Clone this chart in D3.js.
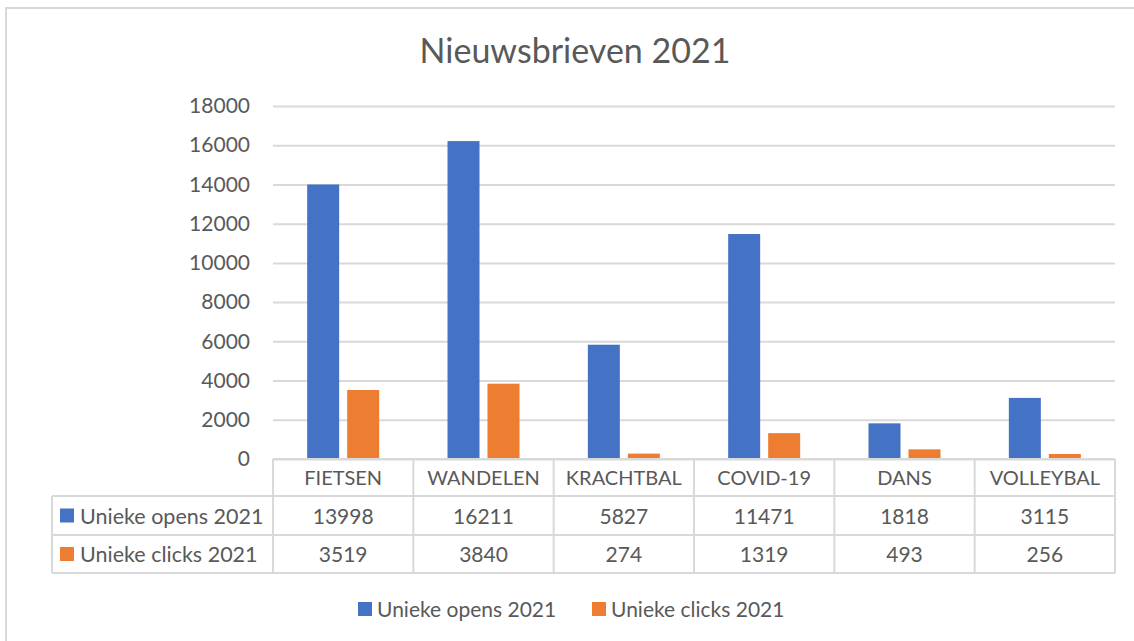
<!DOCTYPE html>
<html>
<head>
<meta charset="utf-8">
<script src="https://cdn.jsdelivr.net/npm/d3@7"></script>
<style>
  body { margin: 0; background: #fff; }
  svg text { font-family: Lato, "Open Sans", sans-serif; fill: #595959; }
</style>
</head>
<body>
<svg id="chart" width="1134" height="641"></svg>
<script>
// data
var categories = ["FIETSEN", "WANDELEN", "KRACHTBAL", "COVID-19", "DANS", "VOLLEYBAL"];
var seriesNames = ["Unieke opens 2021", "Unieke clicks 2021"];
var opens = [13998, 16211, 5827, 11471, 1818, 3115];
var clicks = [3519, 3840, 274, 1319, 493, 256];
var yTicks = [0, 2000, 4000, 6000, 8000, 10000, 12000, 14000, 16000, 18000];
var colors = ["#4472C4", "#ED7D31"];

var seriesValues = [opens, clicks];
var rows = categories.map(function(c, i) {
  return { cat: c, vals: seriesValues.map(function(s) { return s[i]; }) };
});

var svg = d3.select("#chart");
var grid = "#d9d9d9";

// outer chart frame
svg.append("rect")
  .attr("x", 6).attr("y", 8)
  .attr("width", 1200).attr("height", 700)
  .attr("fill", "none").attr("stroke", grid).attr("stroke-width", 2);

svg.append("text")
  .attr("x", 575).attr("y", 63)
  .attr("text-anchor", "middle")
  .style("font-size", "34px")
  .text("Nieuwsbrieven 2021");

var plotL = 273, plotR = 1115, plotT = 106, plotB = 459;

var x0 = d3.scaleBand().domain(categories).range([plotL, plotR])
  .paddingInner(0.487).paddingOuter(0.2435);
var x1 = d3.scaleBand().domain(d3.range(seriesNames.length))
  .range([0, x0.bandwidth()]).paddingInner(0.2);
var y = d3.scaleLinear().domain([0, 18000]).range([plotB, plotT]);

// gridlines + tick labels
var yAxis = svg.append("g")
  .attr("transform", "translate(" + plotL + ",0)")
  .call(d3.axisLeft(y).tickValues(yTicks).tickFormat(d3.format("d"))
    .tickSize(-(plotR - plotL)).tickPadding(23));
yAxis.select(".domain").remove();
yAxis.selectAll(".tick line").attr("stroke", grid).attr("stroke-width", 2);
yAxis.selectAll(".tick text")
  .style("font-size", "21px").attr("fill", "#595959");

// bars
var groups = svg.selectAll(".cat")
  .data(rows).enter().append("g")
  .attr("class", "cat")
  .attr("transform", function(d) { return "translate(" + x0(d.cat) + ",0)"; });

groups.selectAll("rect")
  .data(function(d) { return d.vals; })
  .enter().append("rect")
  .attr("x", function(d, i) { return x1(i); })
  .attr("y", function(d) { return y(d); })
  .attr("width", x1.bandwidth())
  .attr("height", function(d) { return plotB - y(d); })
  .attr("fill", function(d, i) { return colors[i]; });

// data table
var tableLeft = 52;
var rowY = [plotB, 496, 535, 573];
var colX = categories.map(function(c) { return x0(c) - x0.step() * x0.paddingOuter(); });
colX.push(plotR);
var tbl = svg.append("g").attr("stroke", grid).attr("stroke-width", 2);

tbl.append("line").attr("x1", plotL).attr("x2", plotR).attr("y1", rowY[0]).attr("y2", rowY[0]);
for (var r = 1; r < rowY.length; r++) {
  tbl.append("line").attr("x1", tableLeft).attr("x2", plotR).attr("y1", rowY[r]).attr("y2", rowY[r]);
}
tbl.append("line").attr("x1", tableLeft).attr("x2", tableLeft).attr("y1", rowY[1]).attr("y2", rowY[3]);
colX.forEach(function(cx) {
  tbl.append("line").attr("x1", cx).attr("x2", cx).attr("y1", rowY[0]).attr("y2", rowY[3]);
});

// header labels
svg.selectAll(".catLabel")
  .data(categories).enter().append("text")
  .attr("class", "catLabel")
  .attr("x", function(d) { return x0(d) + x0.bandwidth() / 2; })
  .attr("y", (rowY[0] + rowY[1]) / 2 + 7)
  .attr("text-anchor", "middle")
  .style("font-size", "20px")
  .text(function(d) { return d; });

// value rows
seriesValues.forEach(function(vals, si) {
  var cy = (rowY[si + 1] + rowY[si + 2]) / 2;
  svg.append("rect")
    .attr("x", 60).attr("y", cy - 7).attr("width", 14).attr("height", 14)
    .attr("fill", colors[si]);
  svg.append("text")
    .attr("x", 80).attr("y", cy + 8)
    .style("font-size", "21.5px")
    .text(seriesNames[si]);
  svg.selectAll(".val" + si)
    .data(vals).enter().append("text")
    .attr("x", function(d, i) { return x0(categories[i]) + x0.bandwidth() / 2; })
    .attr("y", cy + 8)
    .attr("text-anchor", "middle")
    .style("font-size", "21px")
    .text(function(d) { return d; });
});

// legend
var legendX = [358, 592];
seriesNames.forEach(function(name, i) {
  var g = svg.append("g").attr("transform", "translate(" + legendX[i] + ",602)");
  g.append("rect").attr("width", 14).attr("height", 14).attr("fill", colors[i]);
  g.append("text").attr("x", 19).attr("y", 15)
    .style("font-size", "21px").text(name);
});
</script>
</body>
</html>
